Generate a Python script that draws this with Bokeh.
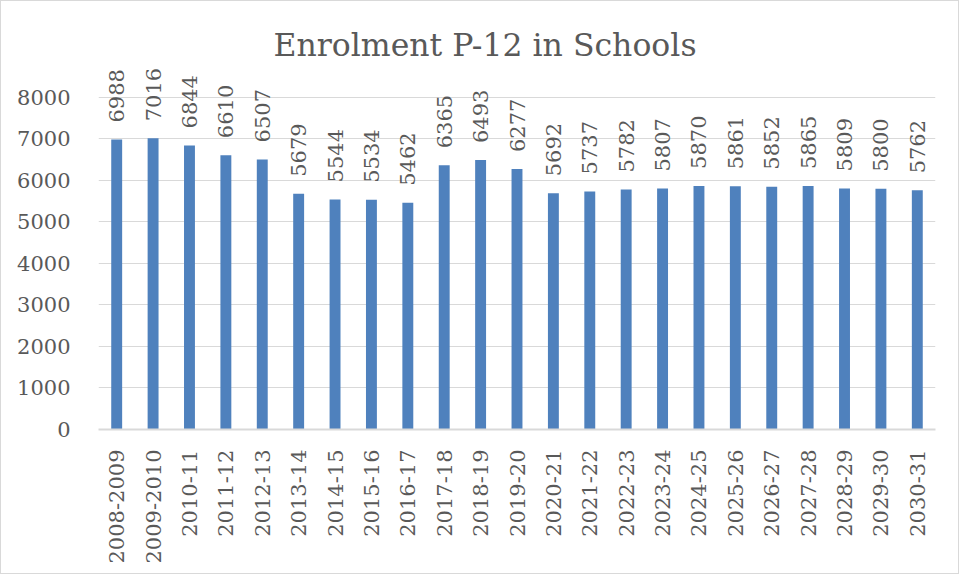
import math
from bokeh.plotting import figure
from bokeh.models import ColumnDataSource, FixedTicker, Range1d, Label
from bokeh.core.properties import value
from bokeh.embed import file_html
from bokeh.resources import INLINE

years = ["2008-2009", "2009-2010", "2010-11", "2011-12", "2012-13", "2013-14",
         "2014-15", "2015-16", "2016-17", "2017-18", "2018-19", "2019-20",
         "2020-21", "2021-22", "2022-23", "2023-24", "2024-25", "2025-26",
         "2026-27", "2027-28", "2028-29", "2029-30", "2030-31"]
enrolment = [6988, 7016, 6844, 6610, 6507, 5679, 5544, 5534, 5462, 6365, 6493,
             6277, 5692, 5737, 5782, 5807, 5870, 5861, 5852, 5865, 5809, 5800, 5762]
y_ticks = [0, 1000, 2000, 3000, 4000, 5000, 6000, 7000, 8000]
title_text = "Enrolment P-12 in Schools"

FONT = "DejaVu Serif"
GREY = "#595959"
FS = "21px"

src = ColumnDataSource(dict(x=years, y=enrolment, lab=[str(v) for v in enrolment]))

p = figure(x_range=years, y_range=Range1d(0, 9831), width=959, height=574,
           output_backend="svg", toolbar_location=None,
           min_border_left=97, min_border_right=25, min_border_top=20,
           min_border_bottom=146)

p.vbar(x="x", top="y", width=0.3, source=src, fill_color="#4F81BD", line_color=None)

p.text(x="x", y="y", text="lab", source=src, angle=math.pi / 2,
       text_align="left", text_baseline="middle", y_offset=-17,
       text_font=value(FONT), text_font_size=FS, text_color=GREY)

title = Label(x=len(years) / 2, y=9256, text=title_text, text_align="center",
              text_baseline="alphabetic", x_offset=-32,
              text_font=FONT, text_font_size="31.5px", text_color=GREY)
p.add_layout(title)

p.yaxis.ticker = FixedTicker(ticks=y_ticks)
p.yaxis.axis_line_color = None
p.yaxis.major_tick_line_color = None
p.yaxis.minor_tick_line_color = None
p.yaxis.major_label_text_font = FONT
p.yaxis.major_label_text_font_size = FS
p.yaxis.major_label_text_color = GREY
p.yaxis.major_label_standoff = 22

p.xaxis.axis_line_color = "#d9d9d9"
p.xaxis.axis_line_width = 2
p.xaxis.major_tick_line_color = None
p.xaxis.minor_tick_line_color = None
p.xaxis.major_label_orientation = math.pi / 2
p.xaxis.major_label_text_font = FONT
p.xaxis.major_label_text_font_size = FS
p.xaxis.major_label_text_color = GREY
p.xaxis.major_label_standoff = 14

p.xgrid.grid_line_color = None
p.ygrid.grid_line_color = "#d9d9d9"
p.ygrid.grid_line_width = 1
p.outline_line_color = None
p.x_range.range_padding = 0
p.styles = {"border": "1px solid #d9d9d9"}

open("out.html", "w").write(file_html(p, INLINE))
